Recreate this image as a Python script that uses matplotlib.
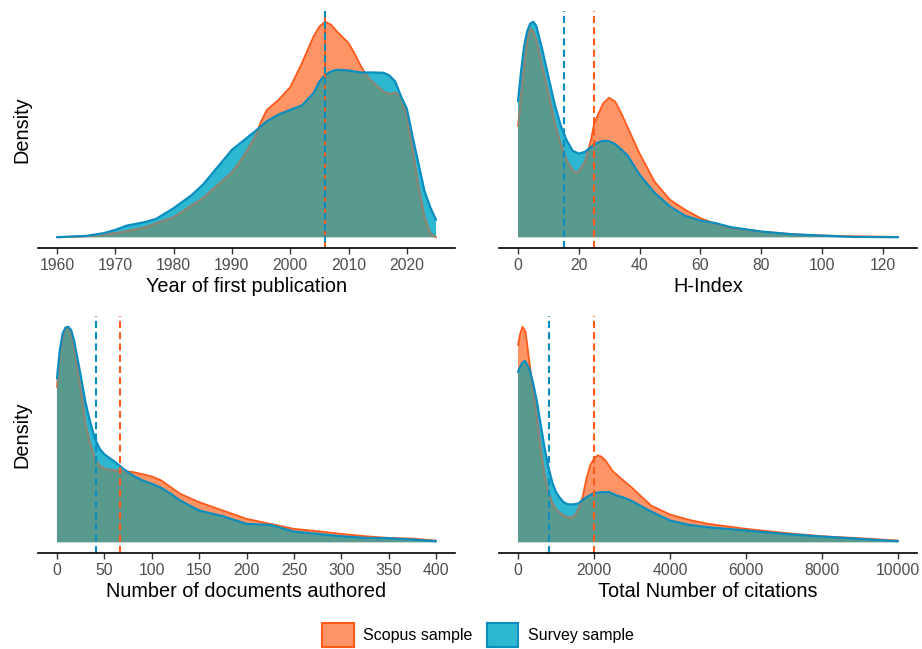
import numpy as np
import matplotlib
matplotlib.use("Agg")
import matplotlib.pyplot as plt
from matplotlib.patches import Polygon, Patch

plt.rcParams['font.family'] = ['Liberation Sans', 'DejaVu Sans']

# colours for the two samples
ORANGE_FILL = '#FF9566'
ORANGE_LINE = '#FF5A1A'
BLUE_FILL = '#2EB7D0'
BLUE_LINE = '#0A8DBF'
OVERLAP = '#599A8F'
ORANGE_UNDER = '#7F8A80'

# ---- year of first publication (relative density) ----
year_scopus_x = [1960, 1965, 1970, 1975, 1980, 1985, 1990, 1992, 1994, 1995, 1996, 1997, 1998,
                 2000, 2002, 2004, 2005, 2006, 2007, 2008, 2010, 2011, 2012, 2013, 2014, 2016,
                 2017, 2018, 2019, 2020, 2021, 2022, 2023, 2024, 2025]
year_scopus_y = [0, 3, 12, 29, 60, 117, 194, 242, 302, 347, 382, 397, 412,
                 450, 522, 602, 632, 646, 637, 617, 582, 552, 517, 487, 467, 437,
                 429, 434, 422, 362, 262, 152, 62, 12, 0]
year_survey_x = [1960, 1965, 1968, 1970, 1972, 1975, 1977, 1980, 1983, 1985, 1988, 1990, 1992,
                 1994, 1996, 1998, 2000, 2002, 2004, 2005, 2006, 2007, 2008, 2010, 2012, 2014,
                 2016, 2017, 2018, 2019, 2020, 2021, 2022, 2023, 2024, 2025]
year_survey_y = [0, 4, 12, 22, 35, 45, 55, 87, 125, 157, 220, 262, 290,
                 318, 348, 368, 382, 395, 432, 467, 487, 497, 502, 500, 494, 494,
                 493, 485, 467, 422, 385, 300, 220, 140, 90, 52]
year_medians = [2006, 2006]

# ---- H-index ----
h_scopus_x = [0, 1, 2, 3, 4, 5, 6, 8, 10, 12, 14, 16, 18, 19, 20, 22, 24, 25, 26, 28, 30, 32,
              34, 36, 40, 45, 50, 55, 60, 65, 70, 80, 90, 100, 110, 125]
h_scopus_y = [332, 420, 510, 590, 625, 615, 590, 510, 430, 345, 280, 230, 200, 192, 197, 225,
              290, 337, 360, 400, 417, 405, 370, 330, 250, 165, 112, 82, 57, 40, 28, 17, 9, 5, 3, 1]
h_survey_x = [0, 1, 2, 3, 4, 5, 6, 8, 10, 12, 14, 16, 18, 20, 22, 24, 26, 28, 30, 32, 34, 36,
              40, 45, 50, 55, 60, 65, 70, 80, 90, 100, 110, 125]
h_survey_y = [407, 495, 570, 615, 638, 644, 632, 560, 480, 400, 335, 290, 258, 250, 255, 270,
              282, 288, 287, 278, 262, 245, 187, 132, 92, 64, 50, 42, 30, 17, 9, 5, 1, 0]
h_medians = [25, 15]

# ---- number of documents authored ----
doc_scopus_x = [0, 3, 6, 9, 12, 15, 18, 21, 25, 30, 35, 40, 45, 50, 60, 70, 80, 90, 100, 110,
                120, 130, 150, 175, 200, 225, 250, 275, 300, 325, 350, 375, 400]
doc_scopus_y = [465, 555, 615, 643, 642, 625, 585, 530, 460, 355, 295, 250, 230, 220, 215, 213,
                210, 204, 197, 185, 165, 145, 120, 95, 70, 55, 40, 33, 25, 18, 13, 11, 5]
doc_survey_x = [0, 3, 6, 9, 12, 15, 18, 21, 25, 30, 35, 40, 45, 50, 60, 70, 80, 90, 100, 110,
                120, 130, 150, 175, 200, 225, 250, 275, 300, 325, 350, 375, 400]
doc_survey_y = [490, 575, 625, 642, 645, 635, 605, 560, 500, 420, 360, 310, 280, 263, 243, 220,
                200, 185, 175, 163, 145, 125, 95, 78, 55, 52, 32, 25, 18, 13, 12, 8, 3]
doc_medians = [66, 41]

# ---- total number of citations ----
cit_scopus_x = [0, 60, 120, 200, 300, 400, 500, 600, 700, 800, 900, 1000, 1100, 1200, 1300,
                1400, 1500, 1600, 1700, 1800, 1900, 2000, 2100, 2200, 2300, 2500, 2750, 3000,
                3500, 4000, 4500, 5000, 6000, 7000, 8000, 9000, 10000]
cit_scopus_y = [590, 625, 645, 630, 538, 455, 370, 275, 200, 150, 118, 98, 88, 80, 75,
                73, 80, 102, 135, 190, 230, 250, 260, 256, 245, 212, 187, 163,
                110, 83, 67, 55, 40, 28, 18, 12, 5]
cit_survey_x = [0, 100, 180, 300, 400, 500, 600, 700, 800, 900, 1000, 1100, 1200, 1300, 1400,
                1500, 1600, 1800, 2000, 2200, 2400, 2600, 2800, 3000, 3500, 4000, 4500, 5000,
                6000, 7000, 8000, 9000, 10000]
cit_survey_y = [510, 535, 543, 520, 475, 420, 350, 282, 225, 180, 150, 133, 120, 114, 113,
                114, 117, 135, 147, 150, 150, 140, 133, 123, 92, 65, 52, 45,
                35, 25, 17, 10, 3]
cit_medians = [2000, 820]

panels = [
    dict(sx=year_scopus_x, sy=year_scopus_y, vx=year_survey_x, vy=year_survey_y,
         med=year_medians, xlim=(1956.75, 2028.25), ticks=range(1960, 2021, 10),
         label='Year of first publication', box=(38, 11, 455, 248)),
    dict(sx=h_scopus_x, sy=h_scopus_y, vx=h_survey_x, vy=h_survey_y,
         med=h_medians, xlim=(-6.25, 131.25), ticks=range(0, 121, 20),
         label='H-Index', box=(499, 11, 917, 248)),
    dict(sx=doc_scopus_x, sy=doc_scopus_y, vx=doc_survey_x, vy=doc_survey_y,
         med=doc_medians, xlim=(-20, 420), ticks=range(0, 401, 50),
         label='Number of documents authored', box=(38, 316, 455, 553)),
    dict(sx=cit_scopus_x, sy=cit_scopus_y, vx=cit_survey_x, vy=cit_survey_y,
         med=cit_medians, xlim=(-500, 10500), ticks=range(0, 10001, 2000),
         label='Total Number of citations', box=(499, 316, 917, 553)),
]

W, H = 922, 649
fig = plt.figure(figsize=(W / 100, H / 100), dpi=100)


def area(x, y, color):
    verts = [(x[0], 0)] + list(zip(x, y)) + [(x[-1], 0)]
    return Polygon(verts, closed=True, facecolor=color, edgecolor='none', lw=0)


for p in panels:
    x0, y0, x1, y1 = p['box']
    ax = fig.add_axes([x0 / W, 1 - y1 / H, (x1 - x0) / W, (y1 - y0) / H])

    sx, sy = np.array(p['sx']), np.array(p['sy'])
    vx, vy = np.array(p['vx']), np.array(p['vy'])

    scopus_area = ax.add_patch(area(sx, sy, ORANGE_FILL))
    survey_area = ax.add_patch(area(vx, vy, BLUE_FILL))
    # where both densities overlap
    both = ax.add_patch(area(vx, vy, OVERLAP))
    both.set_clip_path(scopus_area)

    ax.plot(sx, sy, color=ORANGE_LINE, lw=1.3, solid_capstyle='round')
    under, = ax.plot(sx, sy, color=ORANGE_UNDER, lw=1.3)
    under.set_clip_path(survey_area)
    ax.plot(vx, vy, color=BLUE_LINE, lw=1.6, solid_capstyle='round')

    # medians
    ax.axvline(p['med'][0], color=ORANGE_LINE, lw=1.5, ls=(0, (3.4, 2.0)))
    ax.axvline(p['med'][1], color=BLUE_LINE, lw=1.5,
               ls=(2.7, (3.4, 2.0)) if p['med'][0] == p['med'][1] else (0, (3.4, 2.0)))

    ymax = max(sy.max(), vy.max())
    ax.set_ylim(-0.05 * ymax, 1.05 * ymax)
    ax.set_xlim(*p['xlim'])
    ax.set_xticks(list(p['ticks']))
    ax.set_yticks([])
    for s in ['top', 'right', 'left']:
        ax.spines[s].set_visible(False)
    ax.spines['bottom'].set_linewidth(1.2)
    ax.spines['bottom'].set_color('black')
    ax.tick_params(axis='x', length=4, width=1.0, color='#333333', pad=3,
                   labelsize=11.3, labelcolor='#4D4D4D')
    ax.set_xlabel(p['label'], fontsize=14.3, labelpad=3)
    ax.set_facecolor('none')

fig.text(22 / W, 1 - 130 / H, 'Density', rotation=90, fontsize=14.3, ha='center', va='center')
fig.text(22 / W, 1 - 435 / H, 'Density', rotation=90, fontsize=14.3, ha='center', va='center')

handles = [Patch(facecolor=ORANGE_FILL, edgecolor=ORANGE_LINE, lw=1.5),
           Patch(facecolor=BLUE_FILL, edgecolor=BLUE_LINE, lw=1.5)]
fig.legend(handles, ['Scopus sample', 'Survey sample'], loc='center',
           bbox_to_anchor=(478 / W, 1 - 635 / H), ncol=2, frameon=False,
           fontsize=11.5, handlelength=1.95, handleheight=1.95,
           handletextpad=0.6, columnspacing=0.9, borderpad=0)

fig.savefig('out.png', dpi=100)
